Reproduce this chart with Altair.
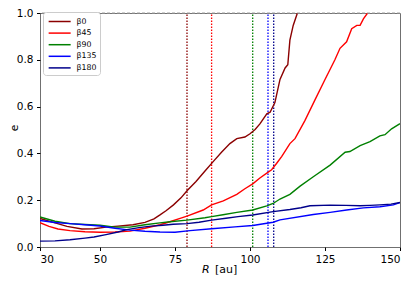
import altair as alt
import pandas as pd

names = ["β0", "β45", "β90", "β135", "β180"]
colors = ["#8b0000", "#ff0000", "#008000", "#0000ff", "#00008b"]

R0 = [30, 35, 39, 44, 48, 52, 56, 61, 65, 68, 70, 72, 74.5, 77, 79, 82, 85,
      87.8, 90.5, 93.3, 95.6, 98.3, 100, 101.7, 103.3, 105.6, 106.7, 108.3, 110,
      111.7, 112.6, 113.3, 114.4, 115.8]
E0 = [0.122, 0.103, 0.088, 0.077, 0.078, 0.085, 0.089, 0.095, 0.105, 0.12, 0.137,
      0.155, 0.18, 0.21, 0.24, 0.28, 0.325,
      0.366, 0.405, 0.442, 0.463, 0.47, 0.484, 0.502, 0.526, 0.569, 0.576, 0.617,
      0.716, 0.765, 0.779, 0.884, 0.947, 1.0]

R45 = [30, 33, 36, 40, 45, 50, 55, 60, 65, 70, 73.3, 76.7, 79, 84.4, 87.2, 91.1,
       95.6, 98.3, 100.9, 103.3, 105.6, 107.2, 108.9, 110.6, 113.3, 115, 118.3,
       121.7, 125, 128.3, 130, 132.2, 133.9, 135.6, 136.7, 137.8, 139.2]
E45 = [0.104, 0.088, 0.077, 0.07, 0.065, 0.063, 0.064, 0.068, 0.08, 0.095, 0.108,
       0.122, 0.132, 0.158, 0.18, 0.197, 0.225, 0.249, 0.27, 0.295, 0.316, 0.33,
       0.358, 0.387, 0.442, 0.463, 0.54, 0.63, 0.716, 0.80, 0.849, 0.877, 0.933,
       0.947, 0.947, 0.975, 1.0]

R90 = [30, 35, 40, 45, 50, 55, 60, 65, 70, 73.3, 79, 85, 87.2, 91, 95.6, 100.9,
       105.6, 107.7, 110, 113.3, 116.7, 121.1, 126.7, 131.7, 133.3, 136.7, 140,
       143.3, 145, 147.2, 150]
E90 = [0.128, 0.11, 0.1, 0.096, 0.093, 0.085, 0.085, 0.095, 0.103, 0.108, 0.115,
       0.125, 0.13, 0.138, 0.148, 0.158, 0.176, 0.186, 0.205, 0.225, 0.26, 0.30,
       0.35, 0.405, 0.408, 0.433, 0.45, 0.475, 0.48, 0.505, 0.527]

R135 = [30, 35, 40, 45, 50, 55, 60, 65, 70, 75, 80, 87.2, 95, 100.9, 107.7, 110,
        121.1, 126.7, 132.2, 137.8, 143.3, 147.8, 150]
E135 = [0.113, 0.105, 0.1, 0.095, 0.09, 0.08, 0.072, 0.067, 0.064, 0.063, 0.07,
        0.078, 0.086, 0.092, 0.106, 0.116, 0.139, 0.148, 0.158, 0.167, 0.172,
        0.18, 0.19]

R180 = [30, 35, 40, 45, 48, 52, 56, 59, 63, 67, 71, 74.4, 79, 83, 87.2, 92, 96,
        100.9, 107.7, 113.3, 117, 120, 126.7, 132, 136.7, 140, 143.3, 147, 150]
E180 = [0.025, 0.026, 0.031, 0.038, 0.043, 0.053, 0.064, 0.074, 0.083, 0.089,
        0.093, 0.097, 0.10, 0.106, 0.115, 0.123, 0.13, 0.137, 0.151, 0.16, 0.168,
        0.176, 0.179, 0.178, 0.176, 0.178, 0.18, 0.183, 0.19]

vline_R = [79.0, 87.2, 100.9, 106.0, 107.9]

x_ticks = [30, 50, 75, 100, 125, 150]
y_ticks = [0.0, 0.2, 0.4, 0.6, 0.8, 1.0]

rows = []
for n, Rs, Es in zip(names, [R0, R45, R90, R135, R180], [E0, E45, E90, E135, E180]):
    for r, v in zip(Rs, Es):
        rows.append({"series": n, "R": r, "e": v})
df = pd.DataFrame(rows)
vdf = pd.DataFrame({"R": vline_R, "col": colors})

xs = alt.Scale(domain=[30, 150], nice=False, zero=False)
ys = alt.Scale(domain=[0, 1], nice=False)

lines = alt.Chart(df).mark_line(strokeWidth=1.4, clip=True).encode(
    x=alt.X("R:Q", scale=xs, axis=alt.Axis(values=x_ticks, title=None, format="d")),
    y=alt.Y("e:Q", scale=ys, axis=alt.Axis(values=y_ticks, format=".1f", title=None)),
    color=alt.Color("series:N", scale=alt.Scale(domain=names, range=colors),
                    legend=alt.Legend(title=None, orient="none", legendX=3, legendY=-1,
                                      symbolType="M-0.7,0H3.3", symbolSize=121,
                                      symbolStrokeWidth=1.5, labelFontSize=7.8,
                                      labelOffset=17.5, padding=3, rowPadding=0.6,
                                      fillColor="white", strokeColor="#cccccc",
                                      cornerRadius=3)),
)

vr = alt.Chart(vdf).mark_rule(strokeWidth=1.3, strokeDash=[1.5, 1.5]).encode(
    x="R:Q", y=alt.datum(0), y2=alt.datum(1),
    color=alt.Color("col:N", scale=None),
)

top = alt.Chart(pd.DataFrame({"e": [1.0]})).mark_rule(
    color="#a0a0a0", strokeDash=[3, 2], strokeWidth=1.2).encode(y="e:Q")

tR = alt.Chart(pd.DataFrame({"t": ["R"]})).mark_text(
    fontStyle="italic", fontSize=11, align="left", baseline="middle", color="black"
).encode(text="t:N", x=alt.value(162), y=alt.value(257))
tU = alt.Chart(pd.DataFrame({"t": ["[au]"]})).mark_text(
    fontSize=11, align="left", baseline="middle", color="black"
).encode(text="t:N", x=alt.value(175), y=alt.value(257))
tE = alt.Chart(pd.DataFrame({"t": ["e"]})).mark_text(
    fontSize=10.5, align="center", baseline="middle", angle=270, color="black"
).encode(text="t:N", x=alt.value(-25), y=alt.value(115))

chart = alt.layer(vr, lines, top, tR, tU, tE).properties(
    width=360, height=234,
    autosize=alt.AutoSizeParams(type="none"),
    padding={"left": 32, "top": 5, "right": 7, "bottom": 35},
).configure(font="DejaVu Sans").configure_view(
    stroke="#707070", strokeWidth=1
).configure_axis(
    domain=False, grid=False, tickColor="black", tickSize=3.5, tickWidth=1,
    labelColor="black", labelFontSize=10.5, labelFont="DejaVu Sans",
    labelPadding=3.5,
).configure_legend(labelFont="DejaVu Sans", labelColor="black")

chart.save("out.html", embed_options={"renderer": "svg", "actions": False})
